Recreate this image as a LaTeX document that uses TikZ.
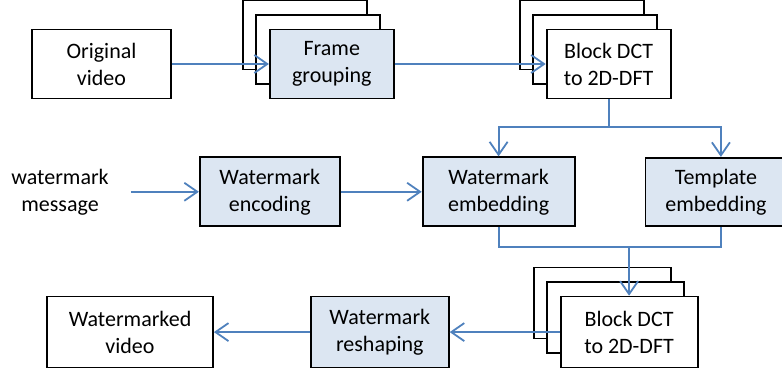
\documentclass[tikz,border=0pt]{standalone}
\usepackage{fontspec}
\setmainfont{Carlito}
\usepackage{tikz}
\usetikzlibrary{arrows.meta, positioning, backgrounds}
\definecolor{boxblue}{HTML}{DCE6F2}
\definecolor{lineblue}{HTML}{4F81BD}
\tikzstyle{block} = [rectangle, draw=black, line width=1.8pt, fill=white, inner sep=0pt, minimum height=69pt, align=center, font=\fontsize{22}{27}\selectfont]
\tikzstyle{process} = [block, fill=boxblue]
\tikzstyle{copyone} = [block, xshift=-13.5pt, yshift=14.5pt]
\tikzstyle{copytwo} = [block, xshift=-27pt, yshift=29pt]
\tikzstyle{plaintext} = [inner sep=0pt, align=center, font=\fontsize{22}{27}\selectfont]
\tikzstyle{link} = [line width=1.8pt, draw=lineblue]
\tikzstyle{arrow} = [link, -{Straight Barb[length=13pt, width=18pt]}]

\begin{document}
\begin{tikzpicture}[x=1pt, y=1pt]
        \useasboundingbox (0,0) rectangle (782,369);

        % top row
        \node (orig) [block, minimum width=139pt] at (101.5,305) {Original\\video};
        \node (frame) [process, minimum width=124pt, right=97pt of orig] {Frame\\grouping};
        \node (dct1) [block, minimum width=124pt, right=151pt of frame] {Block DCT\\to 2D-DFT};

        % middle row
        \node (wemb) [process, minimum width=152pt, below=57pt of dct1, xshift=-110pt] {Watermark\\embedding};
        \node (temp) [process, minimum width=141pt, minimum height=68pt, right=69pt of wemb] {Template\\embedding};
        \node (wenc) [process, minimum width=140pt, left=81pt of wemb] {Watermark\\encoding};
        \node (msg) [plaintext, left=90pt of wenc] {watermark\\message};

        % bottom row
        \node (dct2) [block, minimum width=137pt, minimum height=71pt, below=68.5pt of wemb, xshift=130.5pt] {Block DCT\\to 2D-DFT};
        \node (wres) [process, minimum width=138pt, minimum height=71pt, left=110pt of dct2] {Watermark\\reshaping};
        \node (wvid) [block, minimum width=166pt, minimum height=71pt, left=96pt of wres] {Watermarked\\video};

        % stacked copies behind
        \begin{scope}[on background layer]
            \node (frameback2) [copytwo, minimum width=124pt] at (frame) {};
            \node (frameback1) [copyone, minimum width=124pt] at (frame) {};
            \node (dctaback2) [copytwo, minimum width=124pt] at (dct1) {};
            \node (dctaback1) [copyone, minimum width=124pt] at (dct1) {};
            \node (dctbback2) [copytwo, minimum width=137pt, minimum height=71pt] at (dct2) {};
            \node (dctbback1) [copyone, minimum width=137pt, minimum height=71pt] at (dct2) {};
        \end{scope}

        \coordinate (split) at ([yshift=-28pt]dct1.south);
        \coordinate (join) at ([yshift=-20pt]wemb.south);

        \draw [arrow] (orig) -- (frame);
        \draw [arrow] (frame) -- (dct1);
        \draw [link] (dct1.south) -- (split);
        \draw [arrow] (split) -| (wemb.north);
        \draw [arrow] (split) -| ([xshift=5pt]temp.north);
        \draw [arrow] ([xshift=22pt]msg.east) -- (wenc);
        \draw [arrow] (wenc) -- (wemb);
        \draw [link] (wemb.south) -- (join) -| ([xshift=5pt]temp.south);
        \draw [arrow] (join -| dct2.north) -- (dct2.north);
        \draw [arrow] (dct2) -- (wres);
        \draw [arrow] (wres) -- (wvid);
    \end{tikzpicture}
\end{document}
